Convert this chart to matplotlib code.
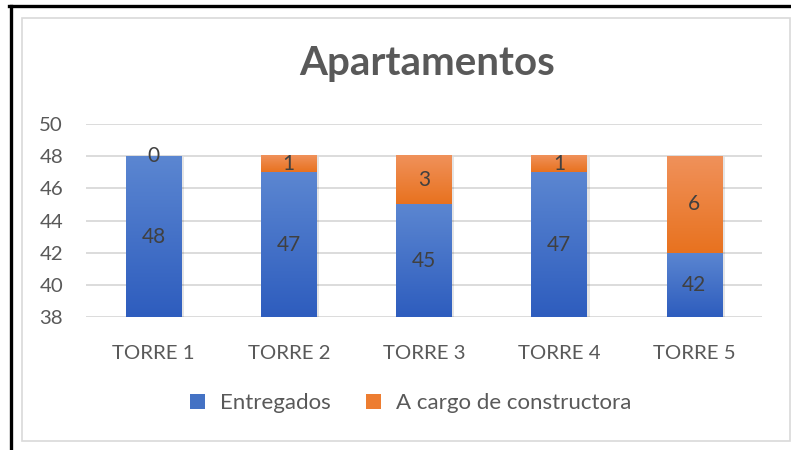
import numpy as np
import matplotlib
matplotlib.use('Agg')
from matplotlib import pyplot as plt
from matplotlib.patches import Rectangle
from matplotlib.lines import Line2D

categories = ['TORRE 1', 'TORRE 2', 'TORRE 3', 'TORRE 4', 'TORRE 5']
entregados = [48, 47, 45, 47, 42]
constructora = [0, 1, 3, 1, 6]
y_ticks = [38, 40, 42, 44, 46, 48, 50]

plt.rcParams['font.family'] = ['Lato', 'DejaVu Sans']

W, H = 791, 450
fig = plt.figure(figsize=(W / 100, H / 100), dpi=100)

# frame around the picture
fig.add_artist(Line2D([9 / W, 1], [1 - 6 / H, 1 - 6 / H], color='black', lw=2.4))
fig.add_artist(Line2D([10.5 / W, 10.5 / W], [0, 1 - 6 / H], color='black', lw=2.4))
fig.add_artist(Rectangle((22 / W, 1 - 441 / H), (790 - 22) / W, (441 - 18) / H,
                         transform=fig.transFigure, fill=False,
                         edgecolor='#D9D9D9', lw=1.2))

ax = fig.add_axes([86 / W, 1 - 317 / H, (762 - 86) / W, (317 - 124) / H])
ymin, ymax = 38, 50
ax.set_xlim(-0.5, len(categories) - 0.5)
ax.set_ylim(ymin, ymax)

for t in y_ticks:
    ax.axhline(t, color='#D9D9D9', lw=1.3, zorder=0)

bw = 0.41


def grad_bar(x, y0, y1, top_col, bot_col):
    if y1 <= y0:
        return
    top = np.array(matplotlib.colors.to_rgb(top_col))
    bot = np.array(matplotlib.colors.to_rgb(bot_col))
    t = np.linspace(0, 1, 64)[:, None]
    img = (top * (1 - t) + bot * t)[:, None, :]
    # soft shadow
    ax.add_patch(Rectangle((x - bw / 2 + 0.02, y0 - 0.08), bw, y1 - y0,
                           facecolor='#000000', alpha=0.10, lw=0, zorder=1))
    ax.imshow(img, extent=[x - bw / 2, x + bw / 2, y0, y1], aspect='auto',
              origin='upper', zorder=2, interpolation='bilinear')


xs = np.arange(len(categories))
for i, x in enumerate(xs):
    e = entregados[i]
    c = constructora[i]
    grad_bar(x, ymin, e, '#5B86D1', '#2E5DBE')
    grad_bar(x, e, e + c, '#F0915A', '#E8721F')
    ax.text(x, (ymin + e) / 2, str(e), ha='center', va='center',
            fontsize=15, color='#404040', zorder=3)
    ax.text(x, e + c / 2, str(c), ha='center', va='center',
            fontsize=15, color='#404040', zorder=3)

ax.set_xlim(-0.5, len(categories) - 0.5)
ax.set_ylim(ymin, ymax)
ax.set_yticks(y_ticks)
ax.set_xticks(xs)
ax.set_xticklabels(categories)
ax.tick_params(length=0, labelsize=14.7, colors='#595959')
ax.tick_params(axis='x', pad=20)
ax.tick_params(axis='y', pad=16.5)
for s in ax.spines.values():
    s.set_visible(False)

fig.text(427 / W, 1 - 63 / H, 'Apartamentos', ha='center', va='center',
         fontsize=29, fontweight='bold', color='#595959')

# legend
handles = [Rectangle((0, 0), 1, 1, facecolor='#4472C4'),
           Rectangle((0, 0), 1, 1, facecolor='#ED7D31')]
fig.legend(handles, ['Entregados', 'A cargo de constructora'], loc='center',
           bbox_to_anchor=(411 / W, 1 - 403 / H), ncol=2, frameon=False,
           fontsize=16, labelcolor='#595959', handlelength=0.65,
           handleheight=0.65, handletextpad=0.7, columnspacing=1.6)

fig.savefig('out.png', dpi=100)
